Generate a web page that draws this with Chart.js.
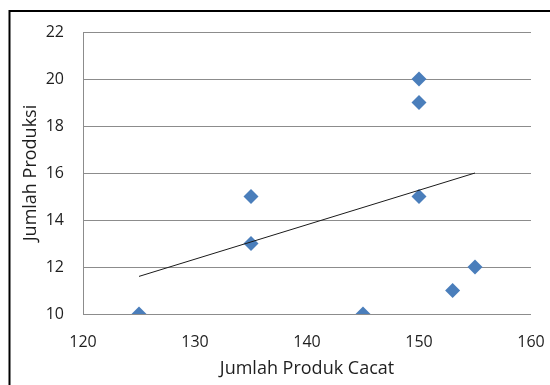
<!DOCTYPE html>
<html>
<head>
<meta charset="utf-8">
<script src="https://cdn.jsdelivr.net/npm/chart.js@4.4.1/dist/chart.umd.min.js"></script>
<style>
  html, body { margin: 0; padding: 0; background: #fff; overflow: hidden; }
  #wrap { width: 550px; height: 385px; position: relative; }
  canvas { display: block; }
</style>
</head>
<body>
<div id="wrap"><canvas id="chart"></canvas></div>
<script>
// Data
const produkCacat = [125, 135, 135, 145, 150, 150, 150, 153, 155];
const produksi = [10, 15, 13, 10, 20, 19, 15, 11, 12];
// trend line ends (Excel linear trendline)
const trendX = [125, 155];
const trendY = [11.6, 16];
const xTicks = [120, 130, 140, 150, 160];
const yTicks = [10, 12, 14, 16, 18, 20, 22];

const points = produkCacat.map((x, i) => ({ x: x, y: produksi[i] }));
const trend = trendX.map((x, i) => ({ x: x, y: trendY[i] }));

// black frame round the chart (left and top edges show)
const framePlugin = {
  id: "frame",
  afterDraw(chart) {
    const ctx = chart.ctx;
    ctx.save();
    ctx.strokeStyle = "#000";
    ctx.lineWidth = 2;
    ctx.beginPath();
    ctx.moveTo(9.5, 385);
    ctx.lineTo(9.5, 11);
    ctx.lineTo(550, 11);
    ctx.stroke();
    ctx.restore();
  },
};

const textColor = "#1e1e1e";

const ctx = document.getElementById("chart").getContext("2d");
new Chart(ctx, {
  type: "scatter",
  data: {
    datasets: [
      {
        label: "Trend",
        type: "line",
        data: trend,
        borderColor: "#1a1a1a",
        borderWidth: 1,
        pointRadius: 0,
        fill: false,
        order: 0,
      },
      {
        label: "Jumlah Produksi",
        data: points,
        pointStyle: "rectRot",
        pointRadius: 7.5,
        pointHoverRadius: 7.5,
        backgroundColor: "#4a7ebb",
        borderColor: "#4a7ebb",
        borderWidth: 0,
        order: 1,
      },
    ],
  },
  options: {
    responsive: true,
    maintainAspectRatio: false,
    animation: false,
    layout: { padding: { left: 0, top: 32, right: 19, bottom: 0 } },
    plugins: {
      legend: { display: false },
      tooltip: { enabled: false },
    },
    scales: {
      x: {
        type: "linear",
        min: 120,
        max: 160,
        afterBuildTicks: (scale) => {
          scale.ticks = xTicks.map((v) => ({ value: v }));
        },
        grid: { display: false, drawTicks: false },
        border: { display: false },
        ticks: {
          padding: 19,
          color: textColor,
          font: { family: "Open Sans", size: 16 },
          maxRotation: 0,
        },
        title: {
          display: true,
          text: "Jumlah Produk Cacat",
          color: textColor,
          font: { family: "Open Sans", size: 18 },
          padding: { top: 0, bottom: 5 },
        },
        afterFit: (scale) => {
          scale.height = 71;
          scale.paddingLeft = 0;
          scale.paddingRight = 0;
        },
      },
      y: {
        type: "linear",
        min: 10,
        max: 22,
        afterBuildTicks: (scale) => {
          scale.ticks = yTicks.map((v) => ({ value: v }));
        },
        grid: { color: "#8c8c8c", lineWidth: 1, drawTicks: false },
        border: { display: true, color: "#8c8c8c", width: 1 },
        ticks: {
          padding: 19,
          color: textColor,
          font: { family: "Open Sans", size: 16 },
        },
        title: {
          display: true,
          text: "Jumlah Produksi",
          color: textColor,
          font: { family: "Open Sans", size: 18 },
          padding: { top: 20, bottom: 0 },
        },
        afterFit: (scale) => {
          scale.width = 83;
          scale.paddingTop = 0;
          scale.paddingBottom = 0;
        },
      },
    },
  },
  plugins: [framePlugin],
});
</script>
</body>
</html>
